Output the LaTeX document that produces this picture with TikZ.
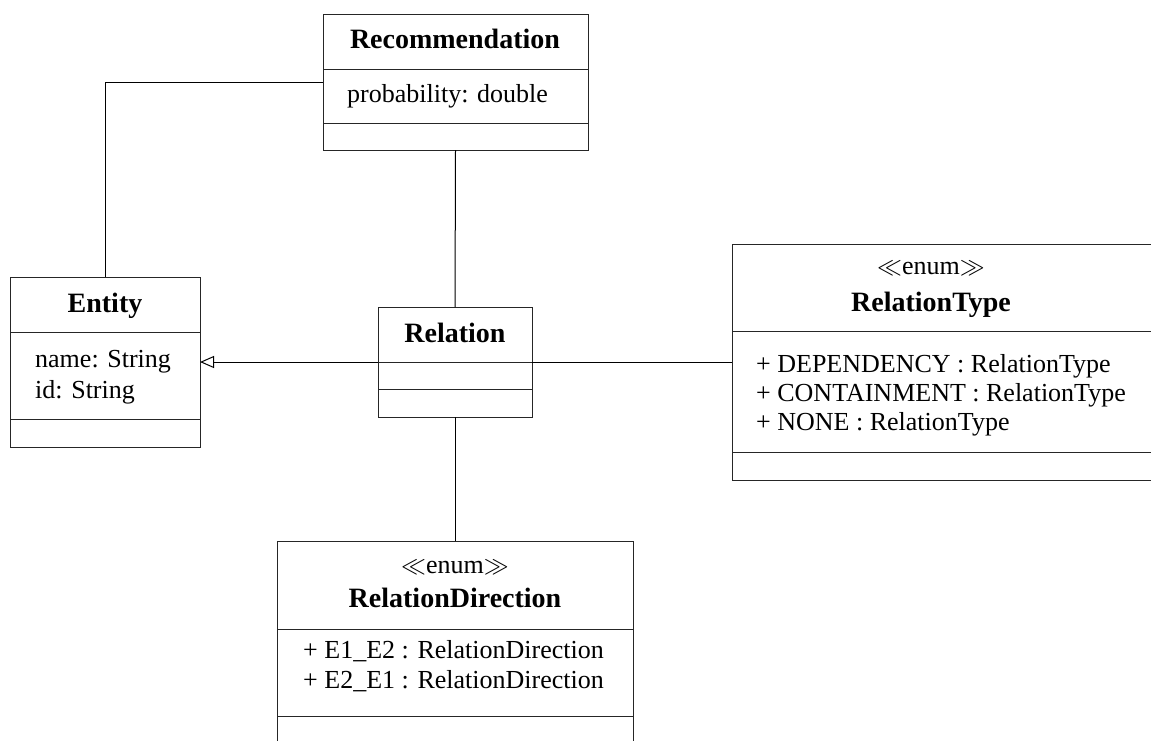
\documentclass[tikz,border=0pt]{standalone}
\usepackage{fontspec}
\setmainfont{Liberation Serif}
\usetikzlibrary{arrows.meta}
\begin{document}
\begin{tikzpicture}[x=1pt,y=-1pt,
  comp/.style={draw=black!85, line width=1pt, inner sep=0pt, outer sep=0pt, anchor=north west},
  uml/.style={inner sep=0pt, font=\fontsize{26}{30}\selectfont},
  ttl/.style={uml, anchor=base, font=\fontsize{28}{32}\selectfont\bfseries},
  stereo/.style={uml, anchor=base},
  attr/.style={uml, anchor=base west},
  link/.style={draw=black, line width=1pt},
  gen/.style={link, -{Triangle[open, length=14pt, width=12pt, line width=1pt]}},
]
\useasboundingbox (0,0) rectangle (1151,740);
\clip (0,0) rectangle (1151,740);

% Recommendation
\node[comp, minimum width=265pt, minimum height=55pt] (recH) at (323,14) {};
\node[comp, minimum width=265pt, minimum height=54pt] (recA) at (323,69) {};
\node[comp, minimum width=265pt, minimum height=27pt] (recO) at (323,123) {};
\node[ttl]  (recT)  at (455,48)  {Recommendation};
\node[attr] (recP)  at (347,102) {probability: double};

% Entity
\node[comp, minimum width=190pt, minimum height=55pt] (entH) at (10,277) {};
\node[comp, minimum width=190pt, minimum height=87pt] (entA) at (10,332) {};
\node[comp, minimum width=190pt, minimum height=28pt] (entO) at (10,419) {};
\node[ttl]  (entT)  at (105,312) {Entity};
\node[attr] (entN)  at (35,367)  {name: String};
\node[attr] (entI)  at (35,398)  {id: String};

% Relation
\node[comp, minimum width=154pt, minimum height=55pt] (relH) at (378,307) {};
\node[comp, minimum width=154pt, minimum height=27pt] (relA) at (378,362) {};
\node[comp, minimum width=154pt, minimum height=28pt] (relO) at (378,389) {};
\node[ttl]  (relT)  at (455,342) {Relation};

% RelationType enumeration
\node[comp, minimum width=440pt, minimum height=87pt]  (typH) at (732,244) {};
\node[comp, minimum width=440pt, minimum height=121pt] (typA) at (732,331) {};
\node[comp, minimum width=440pt, minimum height=28pt]  (typO) at (732,452) {};
\node[stereo] (typS) at (931,274) {$\ll$enum$\gg$};
\node[ttl]    (typT) at (931,311) {RelationType};
\node[attr]   (typ1) at (756,372) {+ DEPENDENCY : RelationType};
\node[attr]   (typ2) at (756,401) {+ CONTAINMENT : RelationType};
\node[attr]   (typ3) at (756,430) {+ NONE : RelationType};

% RelationDirection enumeration
\node[comp, minimum width=356pt, minimum height=88pt] (dirH) at (277,541) {};
\node[comp, minimum width=356pt, minimum height=87pt] (dirA) at (277,629) {};
\node[comp, minimum width=356pt, minimum height=40pt] (dirO) at (277,716) {};
\node[stereo] (dirS) at (455,573) {$\ll$enum$\gg$};
\node[ttl]    (dirT) at (455,607) {RelationDirection};
\node[attr]   (dir1) at (303,658) {+ E1\_E2 : RelationDirection};
\node[attr]   (dir2) at (303,688) {+ E2\_E1 : RelationDirection};

% Connectors
\coordinate (recTap) at (323,82);
\draw[link] (recTap) -| (entH.north);
\draw[link] (recO.south) -- (relH.north);
\draw[link] (relO.south) -- (dirH.north);
\draw[gen]  (relH.south west) -- (relH.south west -| entA.east);
\draw[link] (relH.south east) -- (relH.south east -| typA.west);
\end{tikzpicture}
\end{document}
